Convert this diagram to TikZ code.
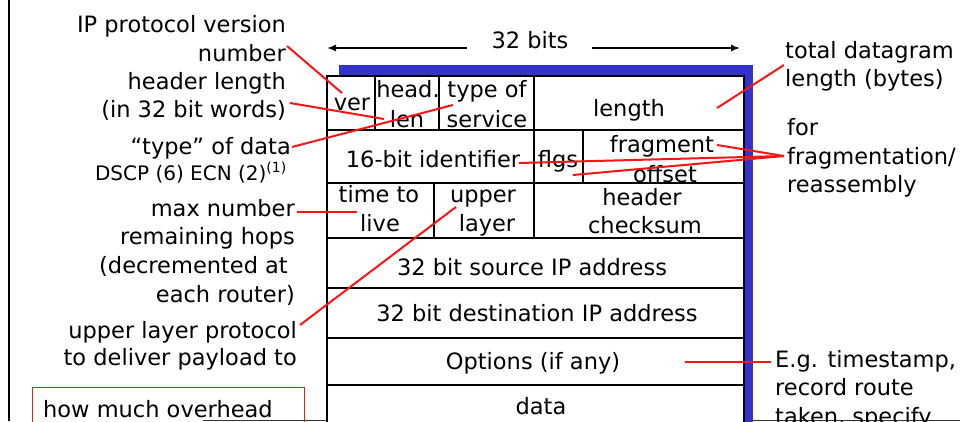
\documentclass[tikz,border=0pt]{standalone}
\usepackage{fontspec}
\setmainfont{DejaVu Sans}
\usetikzlibrary{arrows.meta}
\definecolor{hdrblue}{RGB}{51,51,204}
\definecolor{lred}{RGB}{250,20,20}
\begin{document}
\begin{tikzpicture}[x=1pt,y=-1pt,
  font=\fontsize{22.5}{28}\selectfont,
  lbl/.style={inner sep=0pt},
  rl/.style={lbl,anchor=base east},
  ll/.style={lbl,anchor=base west},
  cl/.style={lbl,anchor=base},
  redline/.style={draw=lred,line width=2pt},
  grid/.style={draw=black,line width=2pt},
  bitarrow/.style={line width=1.5pt,-{Latex[length=9pt,width=7pt]}}]
\clip (0,0) rectangle (960,421);
\fill[white] (0,0) rectangle (960,421);
% frame lines
\draw[line width=2.5pt] (9,0) -- (9,421);
\draw[line width=1pt,black!80] (203,420) -- (960,420);
% table
\fill[hdrblue] (339,65) rectangle (753,440);
\draw[grid,fill=white] (327,76) rectangle (744,440);
\foreach \yy in {130,183,238,288,338,385} \draw[grid] (327,\yy) -- (744,\yy);
\draw[grid] (375,76) -- (375,130);
\draw[grid] (439,76) -- (439,130);
\draw[grid] (534,76) -- (534,238);
\draw[grid] (583,130) -- (583,183);
\draw[grid] (434,183) -- (434,238);
% 32 bits
\node[cl] (bits) at (530,48) {32 bits};
\coordinate (al0) at (467,48);
\coordinate (al) at (327,48);
\coordinate (ar0) at (592,48);
\coordinate (ar) at (740,48);
\draw[bitarrow] (al0) -- (al);
\draw[bitarrow] (ar0) -- (ar);
% cell texts
\node[cl] (ver) at (352,110) {ver};
\node[cl] (head) at (408,97) {head.};
\node[cl] (len) at (407,127) {len};
\node[cl] (tos1) at (487,97) {type of};
\node[cl] (tos2) at (487,127) {service};
\node[cl] (length) at (629,116) {length};
\node[cl] (ident) at (433,167) {16-bit identifier};
\node[cl] (flgs) at (558,167) {flgs};
\node[cl] (frag) at (662,152) {fragment};
\node[cl] (offs) at (665,182) {offset};
\node[cl] (ttl1) at (379,202) {time to};
\node[cl] (ttl2) at (380,231) {live};
\node[cl] (up1) at (483,202) {upper};
\node[cl] (up2) at (487,231) {layer};
\node[cl] (chk1) at (642,205) {header};
\node[cl] (chk2) at (645,233) {checksum};
\node[cl] (src) at (532,275) {32 bit source IP address};
\node[cl] (dst) at (537,321) {32 bit destination IP address};
\node[cl] (opt) at (533,369) {Options (if any)};
\node[cl] (data) at (541,414) {data};
% left labels
\node[rl] (ipv) at (286,32) {IP protocol version};
\node[rl] (num) at (286,61) {number};
\node[rl] (hl1) at (286,89) {header length};
\node[rl] (hl2) at (286,117) {(in 32 bit words)};
\node[rl] (tod) at (291,154) {“type” of data};
\node[rl,font=\fontsize{20}{24}\selectfont] (dscp) at (287,180) {DSCP (6) ECN (2)\textsuperscript{(1)}};
\node[rl] (mx1) at (295,216) {max number};
\node[rl] (mx2) at (295,244) {remaining hops};
\node[rl] (mx3) at (288,273) {(decremented at};
\node[rl] (mx4) at (295,302) {each router)};
\node[rl] (ul1) at (297,338) {upper layer protocol};
\node[rl] (ul2) at (297,365) {to deliver payload to};
\draw[lred,line width=1pt] (32,387) rectangle (304,440);
\node[ll] (ovh) at (43,417) {how much overhead};
% right labels
\node[ll] (tot1) at (785,58) {total datagram};
\node[ll] (tot2) at (785,86) {length (bytes)};
\node[ll] (fr1) at (787,135) {for};
\node[ll] (fr2) at (787,164) {fragmentation/};
\node[ll] (fr3) at (787,192) {reassembly};
\node[ll] (eg1) at (775,367) {E.g. timestamp,};
\node[ll] (eg2) at (775,395) {record route};
\node[ll] (eg3) at (775,424) {taken, specify};
% red connectors
\coordinate (cVer) at (342,93);
\coordinate (cNum) at (287,46);
\draw[redline] (cNum) -- (cVer);
\coordinate (cHl) at (290,103);
\coordinate (cLen) at (384,119);
\draw[redline] (cHl) -- (cLen);
\coordinate (cTod) at (292,147);
\coordinate (cTos) at (453,105);
\draw[redline] (cTod) -- (cTos);
\coordinate (cTot) at (784,65);
\coordinate (cLength) at (717,108);
\draw[redline] (cTot) -- (cLength);
\coordinate (cFr) at (784,156);
\coordinate (cFrag) at (717,145);
\coordinate (cId) at (519,163);
\coordinate (cFl) at (573,175);
\draw[redline] (cFr) -- (cFrag);
\draw[redline] (cFr) -- (cId);
\draw[redline] (cFr) -- (cFl);
\coordinate (cMx) at (297,212);
\coordinate (cTtl) at (357,212);
\draw[redline] (cMx) -- (cTtl);
\coordinate (cUl) at (300,325);
\coordinate (cUp) at (456,207);
\draw[redline] (cUl) -- (cUp);
\coordinate (cOpt) at (685,362);
\coordinate (cEg) at (771,362);
\draw[redline] (cOpt) -- (cEg);
\end{tikzpicture}
\end{document}
